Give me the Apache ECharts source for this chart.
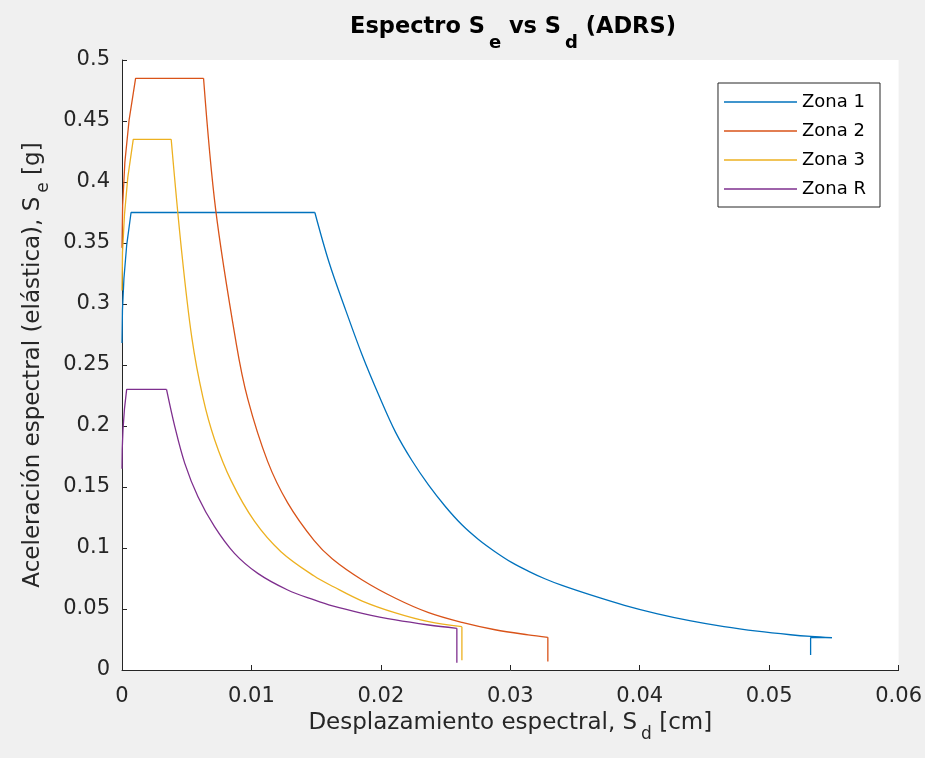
<!DOCTYPE html>
<html>
<head>
<meta charset="utf-8">
<script src="https://cdn.jsdelivr.net/npm/echarts@6/dist/echarts.min.js"></script>
<style>
  html, body { margin: 0; padding: 0; background: #f0f0f0; }
  #chart { width: 925px; height: 758px; }
</style>
</head>
<body>
<div id="chart"></div>
<script>
// ADRS spectra as [Sd (spectral displacement), Se (elastic spectral acceleration, g)].
// Each zone: rising branch + plateau, descending curve, end drop.
const zona1Meseta = [[0, 0.268], [0.000035, 0.295], [0.00015, 0.321], [0.00036, 0.348], [0.0007, 0.375], [0.0149, 0.375]];
const zona1Curva = [
  [0.0149, 0.375], [0.0160, 0.334], [0.01728, 0.295], [0.01856, 0.258], [0.01985, 0.225],
  [0.02113, 0.195], [0.02241, 0.1715], [0.02369, 0.1515], [0.02498, 0.134], [0.02626, 0.119],
  [0.02754, 0.107], [0.02882, 0.097], [0.0301, 0.0882], [0.03138, 0.0811], [0.03267, 0.0748],
  [0.0340, 0.0693], [0.03626, 0.0613], [0.03882, 0.0530], [0.04138, 0.0460], [0.04395, 0.0402],
  [0.04651, 0.0355], [0.04908, 0.0318], [0.05164, 0.0289], [0.05323, 0.0275], [0.05485, 0.0265]
];
const zona1Caida = [[0.05485, 0.0265], [0.0532, 0.0265], [0.0532, 0.0123]];

const zona2Meseta = [[0, 0.346], [0.00005, 0.381], [0.00022, 0.416], [0.00055, 0.451], [0.00105, 0.485], [0.0063, 0.485]];
const zona2Curva = [
  [0.0063, 0.485], [0.00723, 0.378], [0.00882, 0.268], [0.00972, 0.222], [0.01125, 0.171],
  [0.0128, 0.137], [0.01485, 0.106], [0.01626, 0.091], [0.01856, 0.0738], [0.02113, 0.0588],
  [0.02369, 0.0470], [0.02626, 0.0390], [0.02882, 0.0330], [0.03138, 0.0288], [0.0329, 0.0268]
];
const zona2Caida = [[0.0329, 0.0268], [0.0329, 0.007]];

const zona3Meseta = [[0, 0.311], [0.00004, 0.342], [0.00019, 0.373], [0.00045, 0.404], [0.00087, 0.435], [0.0038, 0.435]];
const zona3Curva = [
  [0.0038, 0.435], [0.00459, 0.345], [0.0054, 0.272], [0.00626, 0.223], [0.00715, 0.189],
  [0.00844, 0.155], [0.01023, 0.122], [0.01228, 0.097], [0.01485, 0.077], [0.01638, 0.068],
  [0.01856, 0.0565], [0.02113, 0.0468], [0.02369, 0.0396], [0.02626, 0.0355]
];
const zona3Caida = [[0.02626, 0.0355], [0.02626, 0.008]];

const zonaRMeseta = [[0, 0.165], [0.000018, 0.181], [0.000077, 0.197], [0.00019, 0.214], [0.00036, 0.23], [0.00344, 0.23]];
const zonaRCurva = [
  [0.00344, 0.23], [0.00408, 0.1995], [0.00485, 0.1694], [0.00587, 0.142], [0.00715, 0.1175],
  [0.00869, 0.0956], [0.01049, 0.0792], [0.0128, 0.0656], [0.01485, 0.0574], [0.01626, 0.0525],
  [0.01856, 0.0465], [0.02113, 0.041], [0.02369, 0.0369], [0.02587, 0.0342]
];
const zonaRCaida = [[0.02587, 0.0342], [0.02587, 0.006]];

const seriesNames = ['Zona 1', 'Zona 2', 'Zona 3', 'Zona R'];
const seriesColors = ['#0072BD', '#D95319', '#EDB120', '#7E2F8E'];
const branches = [
  [zona1Meseta, zona1Curva, zona1Caida],
  [zona2Meseta, zona2Curva, zona2Caida],
  [zona3Meseta, zona3Curva, zona3Caida],
  [zonaRMeseta, zonaRCurva, zonaRCaida]
];

const FONT = 'DejaVu Sans';
const TEXT = '#262626';

const chart = echarts.init(document.getElementById('chart'), null, { renderer: 'canvas' });

// rich-text styles: main run plus a subscript run pushed down by top padding
function labelRich(size, subSize, drop, bold, color) {
  return {
    a: { fontFamily: FONT, fontSize: size, fontWeight: bold ? 'bold' : 'normal', color: color, verticalAlign: 'top' },
    s: { fontFamily: FONT, fontSize: subSize, fontWeight: bold ? 'bold' : 'normal', color: color, padding: [drop, 0, 0, 4], verticalAlign: 'bottom' }
  };
}

// one line series per branch; branches of a zone share its name, so the legend lists each zone once
const series = [];
branches.forEach((parts, i) => {
  parts.forEach((data, k) => {
    series.push({
      name: seriesNames[i],
      type: 'line',
      data: data,
      showSymbol: false,
      symbol: 'none',
      smooth: k === 1 ? 0.35 : false,
      clip: true,
      color: seriesColors[i],
      lineStyle: { color: seriesColors[i], width: 1.3 },
      z: 2 + i
    });
  });
});

const option = {
  backgroundColor: '#f0f0f0',
  animation: false,
  title: {
    text: '{a|Espectro S}{s|e}{a| vs S}{s|d}{a| (ADRS)}',
    left: 513,
    top: 16,
    textAlign: 'center',
    padding: 0,
    textStyle: { rich: labelRich(22.5, 18, 18, true, '#000') }
  },
  grid: {
    left: 122, right: 23, top: 60, bottom: 88,
    show: true, backgroundColor: '#ffffff', borderWidth: 0
  },
  legend: {
    data: seriesNames,
    orient: 'vertical',
    right: 45,
    top: 83,
    backgroundColor: '#ffffff',
    borderColor: '#262626',
    borderWidth: 1,
    borderRadius: 0,
    padding: [9, 14, 8, 6],
    itemGap: 9,
    itemWidth: 73,
    itemHeight: 1.5,
    icon: 'rect',
    selectedMode: false,
    textStyle: { fontFamily: FONT, fontSize: 18, lineHeight: 20, color: '#000' }
  },
  xAxis: {
    type: 'value',
    min: 0, max: 0.06, interval: 0.01,
    name: '{a|Desplazamiento espectral, S}{s|d}{a| [cm]}',
    nameLocation: 'middle',
    nameGap: 25,
    nameTextStyle: { rich: labelRich(23, 17, 14, false, TEXT) },
    axisLine: { show: true, onZero: false, lineStyle: { color: TEXT, width: 1 } },
    axisTick: { show: true, inside: true, length: 5, lineStyle: { color: TEXT } },
    axisLabel: { fontFamily: FONT, fontSize: 21, color: TEXT, margin: 16 },
    splitLine: { show: false }
  },
  yAxis: {
    type: 'value',
    min: 0, max: 0.5, interval: 0.05,
    name: '{a|Aceleración espectral (elástica), S}{s|e}{a| [g]}',
    nameLocation: 'middle',
    nameRotate: 90,
    nameGap: 50,
    nameTextStyle: { rich: labelRich(23, 17, 14, false, TEXT) },
    axisLine: { show: true, onZero: false, lineStyle: { color: TEXT, width: 1 } },
    axisTick: { show: true, inside: true, length: 5, lineStyle: { color: TEXT } },
    axisLabel: { fontFamily: FONT, fontSize: 21, color: TEXT, margin: 12 },
    splitLine: { show: false }
  },
  series: series
};

chart.setOption(option);
</script>
</body>
</html>
